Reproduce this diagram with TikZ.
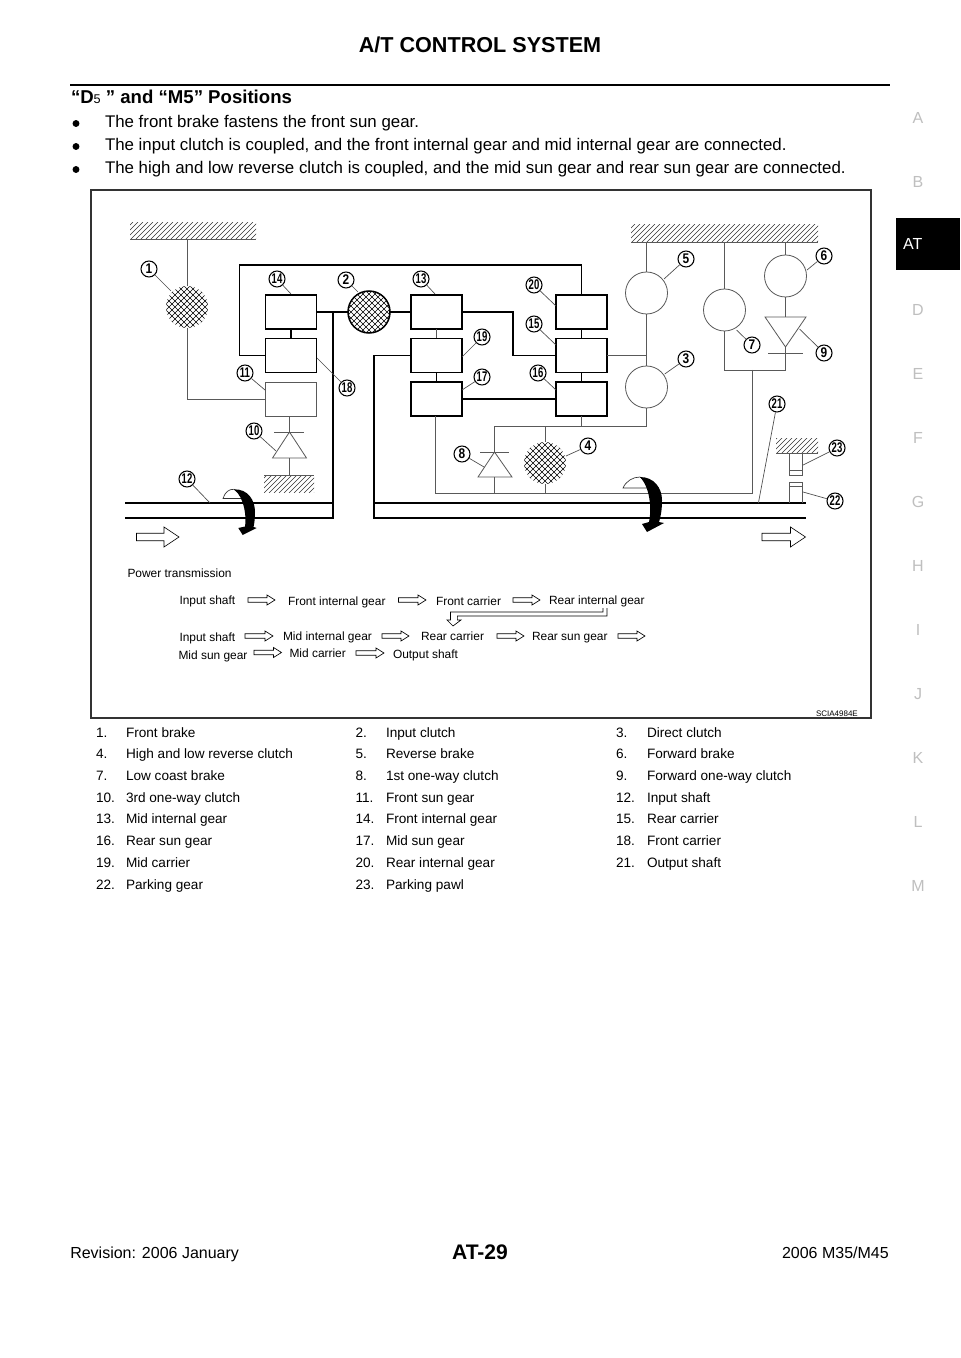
\documentclass[tikz,border=0pt]{standalone}
\usepackage{fontspec}
\setmainfont{Liberation Sans}
\usetikzlibrary{calc}
\newcounter{txtc}
\definecolor{thinc}{gray}{0.35}
\definecolor{tabc}{gray}{0.75}
\tikzset{
  x=0.75pt,y=-0.75pt,
  bx/.style={draw=black,line width=1.15pt,minimum width=38.25pt,minimum height=25.5pt,inner sep=0,outer sep=0},
  bxthin/.style={draw=thinc,line width=0.6pt,minimum width=38.25pt,minimum height=25.5pt,inner sep=0,outer sep=0},
  rc/.style={circle,draw=thinc,line width=0.6pt,minimum size=31.5pt,inner sep=0,outer sep=0},
  xh/.style={circle,minimum size=31.5pt,inner sep=0,outer sep=0,path picture={
     \foreach \i in {-60,-54,...,60}{
       \draw[black,line width=0.5pt,shift={(path picture bounding box.center)}] (\i-30,30)--(\i+30,-30) (\i-30,-30)--(\i+30,30);}}},
  thick line/.style={draw=black,line width=1.15pt,line join=miter},
  thin line/.style={draw=thinc,line width=0.6pt},
  leader/.style={draw=black!70,line width=0.5pt},
  num/.style={circle,draw=black,line width=0.8pt,fill=white,minimum size=12pt,inner sep=0,font=\fontsize{10.5}{11}\selectfont\bfseries},
  txt/.style={inner sep=0,outer sep=0,anchor=mid west,text=black},
  hollow/.style={draw=black,line width=0.5pt,fill=white},
}
\newcommand{\lab}[6]{% name, x, y, text, end x, end y
  \coordinate (e#1) at (#5,#6);
  \node[num] (n#1) at (#2,#3) {\scalebox{#4}[1]{#1}};
  \draw[leader] (n#1) -- (e#1);}
\newcommand{\hatchbar}[5]{% x1,y1,x2,y2,y of solid edge
  \begin{scope}
    \clip (#1,#2) rectangle (#3,#4);
    \foreach \i in {\the\numexpr#1-20\relax,\the\numexpr#1-15\relax,...,#3}{
      \draw[black!80,line width=0.5pt] (\i,#4+1)--(\i+#4-#2+2,#2-1);}
  \end{scope}
  \draw[thin line] (#1,#5)--(#3,#5);}
\newcommand{\harrow}[6]{% x1,x2,y,shaft half,head half,head len
  \draw[hollow] (#1,#3-#4)--(#2-#6,#3-#4)--(#2-#6,#3-#5)--(#2,#3)--(#2-#6,#3+#5)--(#2-#6,#3+#4)--(#1,#3+#4)--cycle;}
\newcommand{\T}[4]{% font px(pt), x, y, text
  \stepcounter{txtc}%
  \node[txt,font=\fontsize{#1}{#1}\selectfont] (t\thetxtc) at (#2,#3) {#4};}
\begin{document}
\begin{tikzpicture}
\useasboundingbox (0,0) rectangle (960,1358);
\fill[white] (0,0) rectangle (960,1358);

% page furniture
\stepcounter{txtc}
\node[inner sep=0,font=\fontsize{16.2}{16}\selectfont\bfseries] (title) at (480,45) {A/T CONTROL SYSTEM};
\coordinate (ruleL) at (70,85); \coordinate (ruleR) at (890,85);
\draw[black,line width=2.2pt] (ruleL)--(ruleR);
\node[txt,font=\fontsize{13.95}{14}\selectfont\bfseries] (head) at (71,99.5) {“D{\fontsize{9.5}{10}\selectfont\mdseries 5} ” and “M5” Positions};
\foreach \yy/\tx [count=\k] in {122/{The front brake fastens the front sun gear.},145/{The input clutch is coupled, and the front internal gear and mid internal gear are connected.},168/{The high and low reverse clutch is coupled, and the mid sun gear and rear sun gear are connected.}}{
  \node[circle,fill=black,minimum size=5.2pt,inner sep=0] (bul\k) at (76,\yy+1.5) {};
  \node[txt,font=\fontsize{12.65}{13}\selectfont] (bt\k) at (105,\yy+1.5) {\tx};
}
\node[inner sep=0,font=\fontsize{12}{12}\selectfont] (revn) [anchor=mid west] at (70,1254.5) {Revision: 2006 January};
\node[inner sep=0,font=\fontsize{15.8}{16}\selectfont\bfseries] (pg) at (480,1252) {AT-29};
\node[inner sep=0,font=\fontsize{12}{12}\selectfont,anchor=mid east] (mdl) at (889,1254.5) {2006 M35/M45};

% side tabs
\foreach \L/\yy in {A/117,B/181,D/309,E/373,F/437,G/501,H/565,I/629,J/693,K/757,L/821,M/885}{
  \node[inner sep=0,text=tabc,font=\fontsize{12}{12}\selectfont] (tab\L) at (918,\yy+1) {\L};}
\node[fill=black,minimum width=48pt,minimum height=39pt,inner sep=0,outer sep=0] (tabAT) at (928,244) {};
\node[txt,text=white,font=\fontsize{12}{12}\selectfont] (tabATt) at (903,246) {AT};

% frame
\draw[draw=black!80,line width=1.2pt] (91,190) rectangle (871,718);

% boxes
\node[bx] (b14) at (291,312) {};
\node[bx] (b18) at (291,355.5) {};
\node[bxthin] (b11) at (291,399) {};
\node[bx] (b13) at (436.5,312) {};
\node[bx] (b19) at (436.5,355.5) {};
\node[bx] (b17) at (436.5,399) {};
\node[bx] (b20) at (581.5,312) {};
\node[bx] (b15) at (581.5,355.5) {};
\node[bx] (b16) at (581.5,399) {};

% clutches / brakes
\node[xh] (c1) at (187,307) {};
\node[xh,draw=black,line width=1.15pt] (c2) at (369,312) {};
\node[xh] (c4) at (545,463) {};
\node[rc] (c5) at (646.5,293) {};
\node[rc] (c3) at (646.5,387) {};
\node[rc] (c7) at (724.5,310) {};
\node[rc] (c6) at (785.5,276) {};

% hatched grounds
\hatchbar{130}{223}{256}{239}{239}
\hatchbar{631}{225}{818}{242}{242}
\hatchbar{264}{475}{314}{492}{475}
\hatchbar{776}{438}{818}{453}{453}
\coordinate (gTopL) at (187,239);
\coordinate (gTopR5) at (646.5,242);
\coordinate (gTopR7) at (724.5,242);
\coordinate (gTopR6) at (785.5,242);
\coordinate (gLow) at (289.5,475);

% one-way clutches
\coordinate (w10a) at (289.5,432); \coordinate (w10b) at (289.5,458);
\draw[thin line,line join=miter] (w10a)--(306.5,458)--(272.5,458)--cycle;
\draw[thin line] (274,432)--(304,432);
\coordinate (w8a) at (494.5,452); \coordinate (w8b) at (494.5,477);
\draw[thin line] (w8a)--(512,477)--(478,477)--cycle;
\draw[thin line] (480,452)--(509,452);
\coordinate (w9a) at (785.5,347); \coordinate (w9b) at (785.5,317);
\draw[thin line] (w9a)--(806,317)--(765,317)--cycle;
\draw[thin line] (768,353)--(803,353);

% thin connectors
\draw[thin line] (gTopL)--(c1.north);
\draw[thin line] (c1.south)|-(b11.west);
\draw[thin line] (b11.south -| w10a)--(w10a);
\draw[thin line] (w10b)--(gLow);
\draw[thin line] (b13.south)--(b19.north);
\coordinate (j16) at (581.5,426); \coordinate (j16L) at (494.5,426); \coordinate (j4) at (545,426);
\coordinate (j3) at (646.5,426);
\draw[thin line] (b16.south)--(j16);
\draw[thin line] (j16L)--(j3)--(c3.south);
\draw[thin line] (j16L)--(w8a);
\draw[thin line] (j4)--(c4.north);
\coordinate (lb) at (435,493); \coordinate (lbR) at (752.5,493);
\coordinate (j8) at (494.5,493); \coordinate (j4b) at (545,493);
\draw[thin line] (b17.south -| lb)--(lb)--(lbR);
\draw[thin line] (w8b)--(j8);
\draw[thin line] (c4.south)--(j4b);
\draw[thin line] (gTopR5)--(c5.north);
\draw[thin line] (c5.south)--(c3.north);
\coordinate (j15) at (646.5,355.5);
\draw[thin line] (b15.east)--(j15);
\draw[thin line] (gTopR7)--(c7.north);
\draw[thin line] (gTopR6)--(c6.north);
\draw[thin line] (c6.south)--(w9b);
\coordinate (j79) at (785.5,370);
\coordinate (j79m) at (752.5,370);
\draw[thin line] (c7.south)|-(j79)--(w9a);
\draw[thin line] (j79m)--(lbR);

% thick connectors
\draw[thick line] (b14.south)--(b18.north);
\draw[thick line] (b18.west)--++(-26,0)--++(0,-90.5)-|(b20.north);
\coordinate (j14) at (333,312);
\draw[thick line] (b14.east)--(c2.west);
\coordinate (s1a) at (125,503); \coordinate (s1b) at (125,518);
\draw[thick line] (j14)--(333,518)--(s1b);
\draw[thick line] (s1a)--(333,503);
\draw[thick line] (c2.east)--(b13.west);
\draw[thick line] (b19.south)--(b17.north);
\draw[thick line] (b13.east)--++(51,0)|-(b15.west);
\draw[thick line] (b17.east)--(b16.west);
\draw[thick line] (b20.south)--(b15.north);
\draw[thick line] (b15.south)--(b16.north);
\coordinate (s2a) at (805.5,503); \coordinate (s2b) at (805.5,518);
\draw[thick line] (b19.west)--(374,355.5)--(374,518)--(s2b);
\draw[thick line] (374,503)--(s2a);

% parking pawl and gear
\draw[thin line] (789.5,453)--(789.5,475)--(802.5,475)--(802.5,453);
\draw[thin line] (789.5,470)--(802.5,470);
\draw[thin line] (789.5,503)--(789.5,482)--(802.5,482)--(802.5,503);
\draw[thin line] (789.5,486)--(802.5,486);

% rotation arrows
\draw[draw=black!80,line width=0.5pt,fill=white] (223,498.5) .. controls (225,492) and (229,489) .. (234,489.3) .. controls (238,492) and (241,495) .. (242,498.5) -- cycle;
\fill[black] (234,489.3) .. controls (248,489) and (255,500) .. (255,512) .. controls (255,518) and (254.5,523) .. (253.5,527) -- (256.7,528) -- (242.7,535) -- (238.3,528) -- (245,526.5) .. controls (246.5,518) and (245,498) .. (234,489.3) -- cycle;
\draw[draw=black!80,line width=0.5pt,fill=white] (623,488) .. controls (626,481) and (633,477) .. (640,477) .. controls (645,480) and (648,484) .. (650,488) -- cycle;
\fill[black] (640,477) .. controls (654,477) and (662,488) .. (662,500) .. controls (662,509) and (661,516) .. (659,522) -- (664,523) -- (647,532) -- (642,524) -- (649,522) .. controls (651,514) and (652,490) .. (640,477) -- cycle;

% shaft arrows
\harrow{136.5}{179}{537}{3.7}{10}{15}
\harrow{762}{805.5}{537}{3.7}{10}{15}

% number labels
\lab{1}{149}{269}{.85}{171}{291}
\lab{14}{277}{279}{.68}{291}{294}
\lab{2}{346}{280}{.85}{358}{292}
\lab{11}{245}{373}{.68}{265}{390}
\lab{10}{254}{431}{.68}{276}{451}
\lab{12}{187}{479}{.68}{210}{503}
\lab{18}{347}{388}{.68}{317}{358}
\lab{13}{421}{279}{.68}{435}{294}
\lab{20}{534}{285}{.68}{556}{306}
\lab{15}{534}{324}{.68}{556}{345}
\lab{16}{538}{373}{.68}{556}{390}
\lab{19}{482}{337}{.68}{462}{357}
\lab{17}{482}{377}{.68}{462}{390}
\lab{8}{462}{454}{.85}{484}{467}
\lab{4}{588}{446}{.85}{566}{456}
\lab{5}{686}{259}{.85}{664}{279}
\lab{6}{824}{256}{.85}{807}{270}
\lab{7}{752}{345}{.85}{736.5}{330}
\lab{9}{824}{353}{.85}{799.5}{329}
\lab{3}{686}{359}{.85}{664.7}{374}
\lab{21}{777}{404}{.68}{758.4}{503}
\lab{23}{837}{448}{.68}{803}{465}
\lab{22}{835}{501}{.68}{803}{492}

% power transmission text
\def\pf{8.95}
\T{\pf}{127.5}{573.5}{Power transmission}
\T{\pf}{179.5}{601}{Input shaft}
\T{\pf}{288}{602}{Front internal gear}
\T{\pf}{436}{601.5}{Front carrier}
\T{\pf}{549}{600.5}{Rear internal gear}
\T{\pf}{179.5}{637.5}{Input shaft}
\T{\pf}{283}{637}{Mid internal gear}
\T{\pf}{421}{637}{Rear carrier}
\T{\pf}{532}{637}{Rear sun gear}
\T{\pf}{178.5}{655.5}{Mid sun gear}
\T{\pf}{289.5}{654}{Mid carrier}
\T{\pf}{393}{655}{Output shaft}
\harrow{248}{275}{600}{2.2}{5}{8}
\harrow{398.5}{426}{600}{2.2}{5}{8}
\harrow{513}{540}{600}{2.2}{5}{8}
\harrow{245}{273}{636}{2.2}{5}{8}
\harrow{382}{409}{636}{2.2}{5}{8}
\harrow{497}{524}{636}{2.2}{5}{8}
\harrow{618}{645}{636}{2.2}{5}{8}
\harrow{254}{281.5}{652.5}{2.2}{5}{8}
\harrow{356}{384}{653}{2.2}{5}{8}
\draw[hollow] (607,608)--(607,616)--(457.4,616)--(457.4,620)--(461,620)--(453,626)--(447,620)--(450.5,620)--(450.5,612)--(603,612)--(603,608);
\T{6}{816}{712.5}{SCIA4984E}

% legend
\foreach \a/\b/\c/\d/\e/\f/\yy [count=\r] in {
 1./Front brake/2./Input clutch/3./Direct clutch/733.5,
 4./High and low reverse clutch/5./Reverse brake/6./Forward brake/755,
 7./Low coast brake/8./1st one-way clutch/9./Forward one-way clutch/776.5,
 10./3rd one-way clutch/11./Front sun gear/12./Input shaft/798.5,
 13./Mid internal gear/14./Front internal gear/15./Rear carrier/820,
 16./Rear sun gear/17./Mid sun gear/18./Front carrier/842,
 19./Mid carrier/20./Rear internal gear/21./Output shaft/863.5}{
  \node[txt,font=\fontsize{10.2}{10}\selectfont] (la\r) at (96,\yy) {\a};
  \node[txt,font=\fontsize{10.2}{10}\selectfont] (lb\r) at (126,\yy) {\b};
  \node[txt,font=\fontsize{10.2}{10}\selectfont] (lc\r) at (355.5,\yy) {\c};
  \node[txt,font=\fontsize{10.2}{10}\selectfont] (ld\r) at (386,\yy) {\d};
  \node[txt,font=\fontsize{10.2}{10}\selectfont] (le\r) at (616,\yy) {\e};
  \node[txt,font=\fontsize{10.2}{10}\selectfont] (lf\r) at (647,\yy) {\f};
}
\node[txt,font=\fontsize{10.2}{10}\selectfont] (la8) at (96,885.5) {22.};
\node[txt,font=\fontsize{10.2}{10}\selectfont] (lb8) at (126,885.5) {Parking gear};
\node[txt,font=\fontsize{10.2}{10}\selectfont] (lc8) at (355.5,885.5) {23.};
\node[txt,font=\fontsize{10.2}{10}\selectfont] (ld8) at (386,885.5) {Parking pawl};
\end{tikzpicture}
\end{document}
